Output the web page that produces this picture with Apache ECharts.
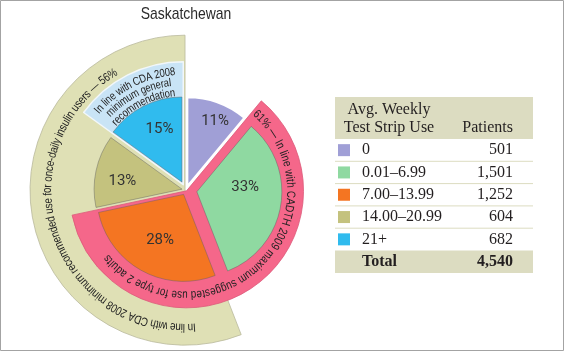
<!DOCTYPE html>
<html><head><meta charset="utf-8">
<script src="https://cdn.jsdelivr.net/npm/echarts@6/dist/echarts.min.js"></script>
<style>html,body{margin:0;padding:0;background:#fff}#c{width:565px;height:352px}</style>
</head><body><div id="c"></div>
<script>
// ---------------- data ----------------
const chartTitle = 'Saskatchewan';
const categories = ['0', '0.01–6.99', '7.00–13.99', '14.00–20.99', '21+'];
const patients = [501, 1501, 1252, 604, 682];
const headerLines = ['Avg. Weekly', 'Test Strip Use'];
const valueHeader = 'Patients';
const totalLabel = 'Total';
const pinkGroup = [1, 2];
const beigeGroup = [2, 3, 4];
const blueGroup = [4];
const pinkTextBody = 'In line with CADTH 2009 maximum suggested use for type 2 adults';
const beigeTextBody = 'In line with CDA 2008 minimum recommended use for once-daily insulin users';
const blueLines = ['In line with CDA 2008', 'minimum general', 'recommendation'];

// ---------------- style / layout ----------------
const sliceColors = ['#a09fd6', '#8fd9a1', '#f47522', '#c4c27e', '#30bbee'];
const SANS = '"Liberation Sans",Arial,sans-serif';
const SERIF = '"Liberation Serif","DejaVu Serif",serif';
const NARROW_SCALE = 0.82;
const CX = 186, CY = 190;
const sliceOffset = [4, 11, 5, 4, 9];
const sliceRadius = [89, 85, 87, 88, 85];
const labelR = 62;
const labelNudge = [[7, -8], [-5, -13], [5, -7], [0, 5], [3, -3]];

const total = patients.reduce((a, b) => a + b, 0);
const rad = Math.PI / 180;
function midAngle(idxs) {
  let before = 0, grp = 0;
  patients.forEach((v, i) => { if (idxs.includes(i)) grp += v; else if (i < idxs[0]) before += v; });
  return 360 * (before + grp / 2) / total;
}
function shifted(deg, off) { return [CX + off * Math.sin(deg * rad), CY - off * Math.cos(deg * rad)]; }
const T = 'rgba(0,0,0,0)';

function groupSeries(idxs, color, off, r, bColor, bWidth) {
  let before = 0, grp = 0, after = 0;
  patients.forEach((v, i) => { if (idxs.includes(i)) grp += v; else if (i < idxs[0]) before += v; else after += v; });
  return {
    type: 'pie', center: shifted(midAngle(idxs), off), radius: [0, r], startAngle: 90, clockwise: true,
    silent: true, animation: false, label: { show: false }, labelLine: { show: false },
    data: [
      { value: before, itemStyle: { color: T, borderWidth: 0 } },
      { value: grp, itemStyle: { color: color, borderColor: bColor, borderWidth: bWidth } },
      { value: after, itemStyle: { color: T, borderWidth: 0 } }
    ]
  };
}
function sliceSeries(i) {
  return {
    type: 'pie', center: shifted(midAngle([i]), sliceOffset[i]), radius: [0, sliceRadius[i]], startAngle: 90, clockwise: true,
    silent: true, animation: false, label: { show: false }, labelLine: { show: false },
    data: patients.map((v, k) => ({
      value: v, name: categories[k],
      itemStyle: k === i
        ? { color: sliceColors[k], borderColor: k === 0 ? '#ffffff' : 'rgba(95,95,95,0.55)', borderWidth: k === 0 ? 2 : 0.8 }
        : { color: T, borderWidth: 0 }
    }))
  };
}

const pct = idxs => Math.round(idxs.reduce((a, i) => a + patients[i], 0) / total * 100);
const pinkText = pct(pinkGroup) + '% — ' + pinkTextBody;
const beigeText = beigeTextBody + ' — ' + pct(beigeGroup) + '%';

const mctx = document.createElement('canvas').getContext('2d');
function arcText(str, c, r, a0, a1, fontSize, color, mode) {
  const font = fontSize + 'px ' + SANS;
  mctx.font = font;
  const chars = Array.from(str);
  const ws = chars.map(ch => mctx.measureText(ch).width * NARROW_SCALE);
  const tot = ws.reduce((a, b) => a + b, 0);
  let start, extra = 0;
  if (mode === 'fit') { extra = (r * (a1 - a0) * rad - tot) / (chars.length - 1); start = a0 * rad; }
  else { start = a0 * rad - (tot / 2) / r; }
  const els = []; let s = 0;
  chars.forEach((ch, k) => {
    const th = start + (s + ws[k] / 2) / r;
    s += ws[k] + extra;
    if (ch === ' ') return;
    els.push({
      type: 'text', x: c[0] + r * Math.sin(th), y: c[1] - r * Math.cos(th), rotation: -th, scaleX: NARROW_SCALE, silent: true, z: 100,
      style: { text: ch, font: font, fill: color, textAlign: 'center', textVerticalAlign: 'middle', align: 'center', verticalAlign: 'middle' }
    });
  });
  return els;
}

const beigeC = shifted(midAngle(beigeGroup), 1);
const pinkC = shifted(midAngle(pinkGroup), 1);
const blueC = shifted(midAngle(blueGroup), 6);
const blueMid = midAngle(blueGroup);

let graphics = [];
graphics = graphics.concat(arcText(beigeText, beigeC, 137, 175.5, 330, 12, '#222', 'fit'));
graphics = graphics.concat(arcText(pinkText, pinkC, 104, 41, 231, 12, '#222', 'fit'));
[113, 102.5, 92].forEach((r, i) => { graphics = graphics.concat(arcText(blueLines[i], blueC, r, blueMid, 0, 11.5, '#222', 'center')); });

// title
graphics.push({ type: 'text', x: CX, y: 14, scaleX: NARROW_SCALE, silent: true, z: 100,
  style: { text: chartTitle, font: '17px ' + SANS, fill: '#2b2b2b', textAlign: 'center', textVerticalAlign: 'middle', align: 'center', verticalAlign: 'middle' } });

// table
const TX = 335, TW = 198, headTop = 97, headBot = 139, rowH = 22.3;
const txt = (s, x, y, al, bold) => ({ type: 'text', x, y, silent: true, z: 100,
  style: { text: s, font: (bold ? 'bold ' : '') + '16px ' + SERIF, fill: '#231f20', textAlign: al, textVerticalAlign: 'middle', align: al, verticalAlign: 'middle' } });
graphics.push({ type: 'rect', shape: { x: TX, y: headTop, width: TW, height: headBot - headTop }, style: { fill: '#dcdcc1' }, silent: true, z: 90 });
graphics.push(txt(headerLines[0], 389, 110, 'center'));
graphics.push(txt(headerLines[1], 389, 128, 'center'));
graphics.push(txt(valueHeader, 513, 128, 'right'));
categories.forEach((cat, i) => {
  const yc = headBot + rowH * (i + 0.5);
  graphics.push({ type: 'rect', shape: { x: 338, y: yc - 6, width: 12, height: 12 }, style: { fill: sliceColors[i] }, silent: true, z: 100 });
  graphics.push(txt(cat, 362, yc, 'left'));
  graphics.push(txt(patients[i].toLocaleString('en-US'), 513, yc, 'right'));
  if (i > 0) graphics.push({ type: 'line', shape: { x1: TX, y1: headBot + rowH * i, x2: TX + TW, y2: headBot + rowH * i }, style: { stroke: '#dcdcc1', lineWidth: 1 }, silent: true, z: 95 });
});
const totTop = headBot + rowH * categories.length;
graphics.push({ type: 'rect', shape: { x: TX, y: totTop, width: TW, height: 22.5 }, style: { fill: '#dcdcc1' }, silent: true, z: 90 });
graphics.push(txt(totalLabel, 362, totTop + 11, 'left', true));
graphics.push(txt(total.toLocaleString('en-US'), 513, totTop + 11, 'right', true));

// frame
graphics.push({ type: 'rect', shape: { x: 0.5, y: 0.5, width: 563, height: 350 }, style: { fill: 'none', stroke: '#a3a3a3', lineWidth: 1 }, silent: true, z: 100 });

const series = [
  groupSeries(beigeGroup, '#dfe0b5', 1, 155, '#b9b99c', 0.8),
  groupSeries(blueGroup, '#c9e4f6', 6, 123, '#f2f7fa', 1.5),
  groupSeries(pinkGroup, '#f5678a', 1, 117, '#dc5a7a', 0.8)
];
patients.forEach((v, i) => series.push(sliceSeries(i)));
series.push({
  type: 'pie', center: [CX, CY], radius: [0, 2 * labelR], startAngle: 90, clockwise: true, silent: true, animation: false,
  percentPrecision: 0, z: 3,
  data: patients.map((v, i) => ({ value: v, name: categories[i], itemStyle: { color: T, borderWidth: 0 } })),
  label: { show: true, position: 'inside', formatter: '{d}%', fontSize: 15, fontFamily: 'Roboto, "Liberation Sans", sans-serif', color: '#333' },
  labelLine: { show: false },
  labelLayout: p => ({ dx: labelNudge[p.dataIndex][0], dy: labelNudge[p.dataIndex][1] })
});

const chart = echarts.init(document.getElementById('c'), null, { renderer: 'canvas', width: 565, height: 352 });
chart.setOption({ backgroundColor: '#fff', animation: false, series: series, graphic: { elements: graphics } });
</script></body></html>
